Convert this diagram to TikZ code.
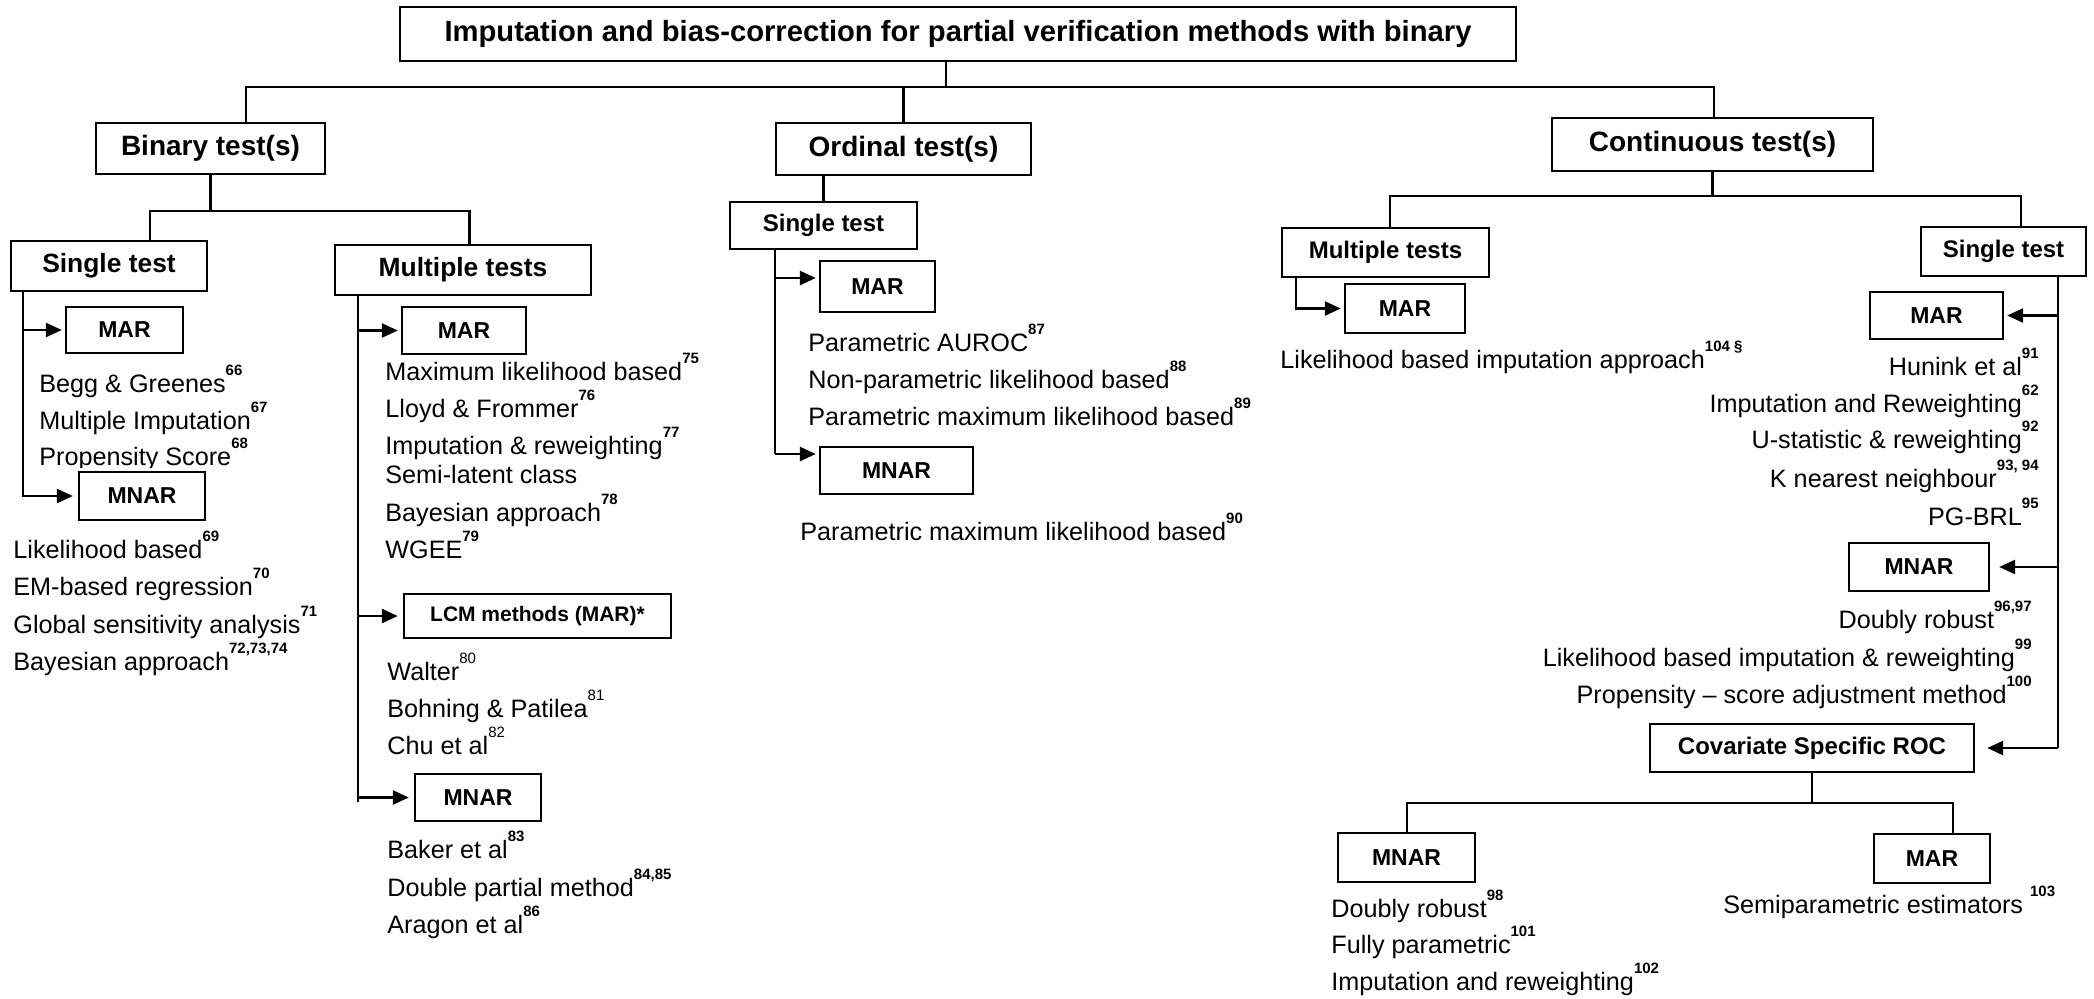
\documentclass[tikz,border=0pt]{standalone}
\usepackage{fontspec}
\setmainfont{Liberation Sans}
\usetikzlibrary{arrows.meta}
% reference numbers set as raised small figures
\newcommand\rf[1]{\raisebox{8.5pt}{\fontsize{7.5}{8}\selectfont\bfseries #1}}
\newcommand\rn[1]{\raisebox{8.5pt}{\fontsize{7.5}{8}\selectfont #1}}
\begin{document}
\begin{tikzpicture}[x=0.5pt,y=-0.5pt,
  box/.style={draw, line width=1.2pt, inner sep=0pt, fill=white},
  fs/.style={font=\bfseries\fontsize{#1}{#1}\selectfont},
  wh/.style 2 args={minimum width=#1, minimum height=#2},
  ln/.style={line width=1.3pt},
  arr/.style={line width=1.3pt, -{Triangle[length=8pt,width=7pt]}, shorten >=1.5pt},
  item/.style={inner sep=0pt, anchor=base west, font=\fontsize{12.6}{15}\selectfont},
  ritem/.style={item, anchor=base east}]
\useasboundingbox (0,0) rectangle (2094,998);

% ---- boxes ----
\node[box, fs=14.6, wh={558pt}{27pt}] (title) at (958,34) {Imputation and bias-correction for partial verification methods with binary};
\node[box, fs=14, wh={114.5pt}{25.5pt}] (binary) at (210.5,148.5) {Binary test(s)};
\node[box, fs=14, wh={127.5pt}{26pt}] (ordinal) at (903.5,149) {Ordinal test(s)};
\node[box, fs=14, wh={160.5pt}{26.5pt}] (continuous) at (1712.5,144.5) {Continuous test(s)};

\node[box, fs=13.2, wh={98pt}{25pt}] (bsingle) at (109,266) {Single test};
\node[box, fs=13.2, wh={128pt}{25pt}] (bmultiple) at (463,270) {Multiple tests};
\node[box, fs=11.5, wh={58.5pt}{23pt}] (bsmar) at (124.5,330) {MAR};
\node[box, fs=11.5, wh={63pt}{24pt}] (bsmnar) at (142,496) {MNAR};
\node[box, fs=11.5, wh={62pt}{23.5pt}] (bmmar) at (464,330.5) {MAR};
\node[box, fs=10.5, wh={133.5pt}{22pt}] (lcm) at (537.5,616) {LCM methods (MAR)*};
\node[box, fs=11.5, wh={63pt}{23.5pt}] (bmmnar) at (478,797.5) {MNAR};

\node[box, fs=12, wh={93.5pt}{23.5pt}] (osingle) at (823.5,225.5) {Single test};
\node[box, fs=11.5, wh={57.5pt}{25.5pt}] (omar) at (877.5,286.5) {MAR};
\node[box, fs=11.5, wh={76.5pt}{23.5pt}] (omnar) at (896.5,470.5) {MNAR};

\node[box, fs=12, wh={103.5pt}{24.5pt}] (cmultiple) at (1385.5,252.5) {Multiple tests};
\node[box, fs=11.5, wh={60pt}{24.5pt}] (cmmar) at (1405,308.5) {MAR};
\node[box, fs=12, wh={82.5pt}{24.5pt}] (csingle) at (2003.5,251.5) {Single test};
\node[box, fs=11.5, wh={66.5pt}{23.5pt}] (csmar) at (1936.5,315.5) {MAR};
\node[box, fs=11.5, wh={70pt}{24pt}] (csmnar) at (1919,567) {MNAR};
\node[box, fs=12, wh={162pt}{24pt}] (covroc) at (1812,748) {Covariate Specific ROC};
\node[box, fs=11.5, wh={68.5pt}{24.5pt}] (cvmnar) at (1406.5,857.5) {MNAR};
\node[box, fs=11.5, wh={58pt}{24.5pt}] (cvmar) at (1932,858.5) {MAR};

% ---- junction points ----
\coordinate (tstem) at (946,87);
\coordinate (tbarL) at (246,87);
\coordinate (tbarR) at (1714,87);
\coordinate (bbarL) at (150,211);
\coordinate (bbarR) at (469.5,211);
\coordinate (bsv) at (23,496);
\coordinate (bmv) at (358,802);
\coordinate (oa1) at (775,278);
\coordinate (oa2) at (775,454);
\coordinate (cbarL) at (1390,196);
\coordinate (cbarR) at (2021,196);
\coordinate (cmv) at (1296,308.5);
\coordinate (csv) at (2058,748);
\coordinate (cvbarL) at (1407,803);
\coordinate (cvbarR) at (1953,803);

% ---- tree connectors ----
\draw[ln] (title.south -| tstem) -- (tstem);
\draw[ln] (binary.north -| tbarL) -- (tbarL) -- (tbarR) -- (continuous.north -| tbarR);
\draw[ln] (ordinal.north) -- (ordinal.north |- tbarL);
\draw[ln] (binary.south) -- (binary.south |- bbarL);
\draw[ln] (bsingle.north -| bbarL) -- (bbarL) -- (bbarR) -- (bmultiple.north -| bbarR);
\draw[ln] (ordinal.south -| osingle.north) -- (osingle.north);
\draw[ln] (continuous.south) -- (continuous.south |- cbarL);
\draw[ln] (cmultiple.north -| cbarL) -- (cbarL) -- (cbarR) -- (csingle.north -| cbarR);
\draw[ln] (covroc.south) -- (covroc.south |- cvbarL);
\draw[ln] (cvmnar.north -| cvbarL) -- (cvbarL) -- (cvbarR) -- (cvmar.north -| cvbarR);

% ---- arrows ----
\draw[arr] (bsmar.west -| bsv) -- (bsmar.west);
\draw[arr, shorten >=2.5pt] (bsingle.south -| bsv) |- (bsmnar.west);
\draw[ln] (bmultiple.south -| bmv) -- (bmv);
\draw[arr] (bmmar.west -| bmv) -- (bmmar.west);
\draw[arr, shorten >=2.5pt] (lcm.west -| bmv) -- (lcm.west);
\draw[arr, shorten >=2.5pt] (bmmnar.west -| bmv) -- (bmmnar.west);
\draw[ln] (osingle.south -| oa1) -- (oa2);
\draw[arr] (oa1) -- (oa1 -| omar.west);
\draw[arr] (oa2) -- (oa2 -| omnar.west);
\draw[arr] (cmultiple.south -| cmv) |- (cmmar.west);
\draw[ln] (csingle.south -| csv) -- (csv);
\draw[arr] (csmar.east -| csv) -- (csmar.east);
\draw[arr, shorten >=4.5pt] (csmnar.east -| csv) -- (csmnar.east);
\draw[arr, shorten >=6pt] (csv) -- (covroc.east);

% ---- method lists: binary, single test ----
\node[item] (bs1) at (39,392) {Begg \& Greenes\rf{66}};
\node[item] (bs2) at (39,429) {Multiple Imputation\rf{67}};
\begin{scope}
  \clip (0,300) rectangle (700,467);
  \node[item] (bs3) at (39,465) {Propensity Score\rf{68}};
\end{scope}
\node[item] (bs4) at (13,558) {Likelihood based\rf{69}};
\node[item] (bs5) at (13,595) {EM-based regression\rf{70}};
\node[item] (bs6) at (13,633) {Global sensitivity analysis\rf{71}};
\node[item] (bs7) at (13,670) {Bayesian approach\rf{72,73,74}};

% ---- binary, multiple tests ----
\node[item] (bm1) at (385,380) {Maximum likelihood based\rf{75}};
\node[item] (bm2) at (385,417) {Lloyd \& Frommer\rf{76}};
\node[item] (bm3) at (385,454) {Imputation \& reweighting\rf{77}};
\node[item] (bm4) at (385,483) {Semi-latent class};
\node[item] (bm5) at (385,521) {Bayesian approach\rf{78}};
\node[item] (bm6) at (385,558) {WGEE\rf{79}};
\node[item] (bl1) at (387,680) {Walter\rn{80}};
\node[item] (bl2) at (387,717) {Bohning \& Patilea\rn{81}};
\node[item] (bl3) at (387,754) {Chu et al\rn{82}};
\node[item] (bn1) at (387,858) {Baker et al\rf{83}};
\node[item] (bn2) at (387,896) {Double partial method\rf{84,85}};
\node[item] (bn3) at (387,933) {Aragon et al\rf{86}};

% ---- ordinal ----
\node[item] (o1) at (808,351) {Parametric AUROC\rf{87}};
\node[item] (o2) at (808,388) {Non-parametric likelihood based\rf{88}};
\node[item] (o3) at (808,425) {Parametric maximum likelihood based\rf{89}};
\node[item] (o4) at (800,540) {Parametric maximum likelihood based\rf{90}};

% ---- continuous ----
\node[item] (c1) at (1280,368) {Likelihood based imputation approach\rf{104 §}};
\node[ritem] (cs1) at (2039,375) {Hunink et al\rf{91}};
\node[ritem] (cs2) at (2039,412) {Imputation and Reweighting\rf{62}};
\node[ritem] (cs3) at (2039,448) {U-statistic \& reweighting\rf{92}};
\node[ritem] (cs4) at (2039,487) {K nearest neighbour\rf{93, 94}};
\node[ritem] (cs5) at (2039,525) {PG-BRL\rf{95}};
\node[ritem] (cn1) at (2032,628) {Doubly robust\rf{96,97}};
\node[ritem] (cn2) at (2032,666) {Likelihood based imputation \& reweighting\rf{99}};
\node[ritem] (cn3) at (2032,703) {Propensity – score adjustment method\rf{100}};
\node[item] (cv1) at (1331,917) {Doubly robust\rf{98}};
\node[item] (cv2) at (1331,953) {Fully parametric\rf{101}};
\node[item] (cv3) at (1331,990) {Imputation and reweighting\rf{102}};
\node[item] (cv4) at (1723,913) {Semiparametric estimators \rf{103}};
\end{tikzpicture}
\end{document}
